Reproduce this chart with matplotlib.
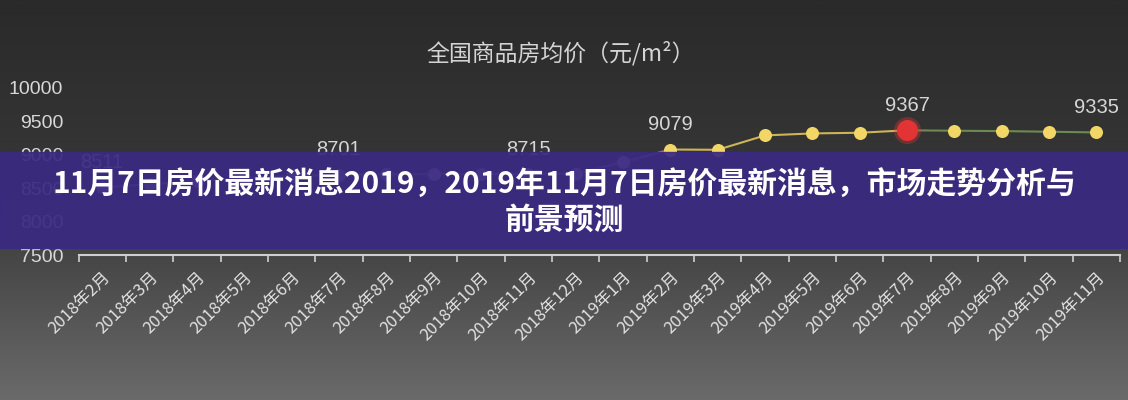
import numpy as np
import matplotlib
matplotlib.use("Agg")
import matplotlib.pyplot as plt
from matplotlib.patches import Rectangle

plt.rcParams['font.family'] = ['Noto Sans CJK SC', 'DejaVu Sans']

# data
months = ["2018年2月", "2018年3月", "2018年4月", "2018年5月", "2018年6月", "2018年7月",
          "2018年8月", "2018年9月", "2018年10月", "2018年11月", "2018年12月", "2019年1月",
          "2019年2月", "2019年3月", "2019年4月", "2019年5月", "2019年6月", "2019年7月",
          "2019年8月", "2019年9月", "2019年10月", "2019年11月"]
price = [8511, 8560, 8610, 8650, 8680, 8701,
         8710, 8712, 8714, 8715, 8716, 8890,
         9079, 9075, 9290, 9320, 9330, 9367,
         9360, 9355, 9345, 9335]
labelled = [0, 5, 9, 12, 17, 21]
peak = 17
headline = ["11月7日房价最新消息2019，2019年11月7日房价最新消息，市场走势分析与", "前景预测"]

fig = plt.figure(figsize=(11.28, 4.0), dpi=100)

# background gradient
bg = fig.add_axes([0, 0, 1, 1], zorder=0)
grad = np.linspace(0, 1, 256).reshape(-1, 1)
bg.imshow(grad, aspect="auto", cmap=matplotlib.colors.LinearSegmentedColormap.from_list(
    "bg", ["#2a2a2a", "#383838", "#6a6a6a"]), extent=[0, 1, 0, 1], origin="upper")
bg.axis("off")

ax = fig.add_axes([0.0696, 0.3625, 0.9234, 0.4175], zorder=1)
ax.patch.set_alpha(0)
x = np.arange(len(months))

purple, gold, green = "#9a7aaa", "#cdb458", "#6c8a52"
ax.plot(x[:13], price[:13], color=purple, lw=1.5, zorder=2)
ax.plot(x[12:18], price[12:18], color=gold, lw=1.5, zorder=2)
ax.plot(x[17:], price[17:], color=green, lw=1.5, zorder=2)
ax.scatter(x[:12], price[:12], s=70, color="#c3a4cf", zorder=3)
yel = [i for i in range(12, len(months)) if i != peak]
ax.scatter(x[yel], [price[i] for i in yel], s=70, color="#f3d766", zorder=3)
ax.scatter([x[peak]], [price[peak]], s=380, color="#e03535", alpha=0.35, zorder=3, lw=0)
ax.scatter([x[peak]], [price[peak]], s=200, color="#e23434", zorder=4)

for i in labelled:
    ax.annotate(str(price[i]), (x[i], price[i]), xytext=(0, 11), textcoords="offset points",
                ha="center", va="bottom", color="#d6d6d6", fontsize=14.5, family="Liberation Sans")

ax.set_xlim(-0.5, len(months) - 0.5)
ax.set_ylim(7500, 10000)
ax.set_yticks([7500, 8000, 8500, 9000, 9500, 10000])
ax.set_yticklabels(["7500", "8000", "8500", "9000", "9500", "10000"], family="Liberation Sans")
ax.set_xticks(np.arange(len(months) + 1) - 0.5, minor=False)
ax.set_xticklabels([])
ax.set_xticks(x, minor=True)
ax.set_xticklabels(months, minor=True, rotation=45, ha="right", rotation_mode="anchor",
                   color="#e2e2e2", fontsize=12)
ax.tick_params(axis="x", which="major", length=5, color="#cfcfcf", width=1.2)
ax.tick_params(axis="x", which="minor", length=0, pad=10)
ax.tick_params(axis="y", length=0, labelcolor="#d8d8d8", labelsize=14, pad=11)
for s in ["top", "right", "left"]:
    ax.spines[s].set_visible(False)
ax.spines["bottom"].set_color("#cfcfcf")
ax.spines["bottom"].set_linewidth(1.5)

fig.text(0.497, 0.868, "全国商品房均价（元/m²）", ha="center", va="center",
         color="#d4d4d4", fontsize=16.5)

# headline banner
fig.patches.append(Rectangle((0, 0.38), 1, 0.24, transform=fig.transFigure,
                             color="#3b2a82", alpha=0.93, zorder=5))
fig.text(0.5, 0.538, headline[0], ha="center", va="center", color="white",
         fontsize=21.5, fontweight="bold", zorder=6)
fig.text(0.5, 0.45, headline[1], ha="center", va="center", color="white",
         fontsize=21.5, fontweight="bold", zorder=6)

fig.savefig("out.png", dpi=100)
